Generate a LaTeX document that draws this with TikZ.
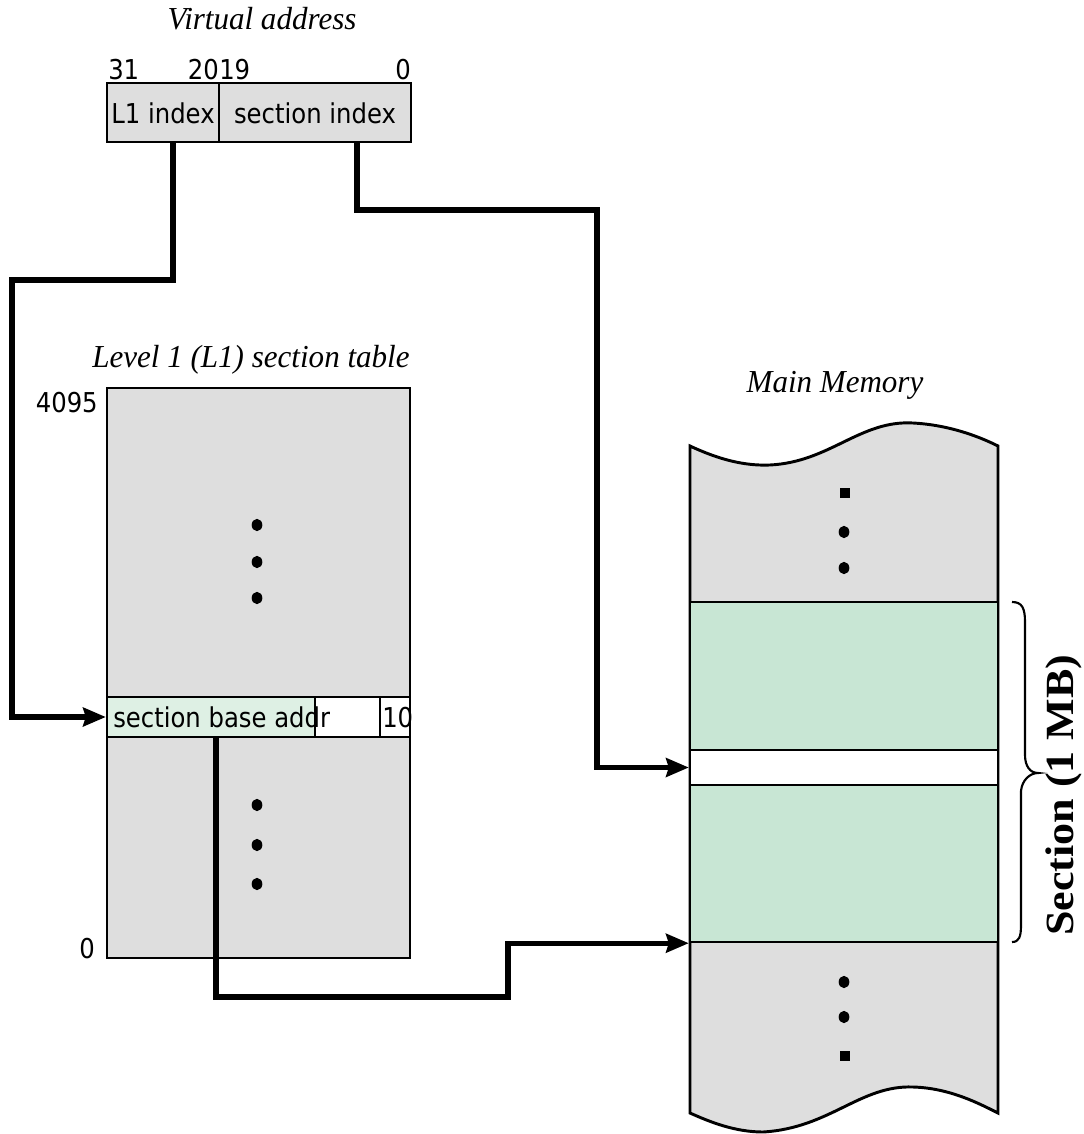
\documentclass[tikz,border=0pt]{standalone}
\usepackage{fontspec}
\setmainfont{Liberation Serif}
\newfontfamily\labfont[FakeStretch=0.89]{DejaVu Sans}
\newfontfamily\ttlfont[FakeStretch=0.97]{Liberation Serif}
\newfontfamily\secfont[FakeStretch=1.1]{Liberation Serif}
\usetikzlibrary{arrows.meta,fit}
\definecolor{boxgray}{RGB}{222,222,222}
\definecolor{memgreen}{RGB}{200,230,212}
\definecolor{entgreen}{RGB}{222,240,228}
\begin{document}
\begin{tikzpicture}[x=0.75pt,y=-0.75pt,
  box/.style={draw=black,line width=1.8pt,fill=boxgray,inner sep=0pt},
  band/.style={draw=black,line width=1.8pt,inner sep=0pt},
  conn/.style={line width=3.8pt,-{Stealth[length=17pt,width=14pt,inset=2pt]}},
  lab/.style={font=\labfont\fontsize{20.5}{24}\selectfont,inner sep=0pt},
  ttl/.style={font=\ttlfont\itshape\fontsize{24}{28}\selectfont,inner sep=0pt,anchor=base},
  dot/.style={fill=black}]
\useasboundingbox (0,0) rectangle (1084,1134);

% ---------- Virtual address ----------
\node[ttl] (vattl) at (262,30) {Virtual address};
\node[box,fit={(107,83) (219,142)}] (l1f) {};
\node[box,fit={(219,83) (411,142)}] (sif) {};
\node[lab,anchor=base] (l1t) at (163,124) {L1 index};
\node[lab,anchor=base] (sit) at (315,124) {section index};
\node[lab,anchor=base west] (b31) at (108,80) {31};
\node[lab,anchor=base east] (b20) at (219,80) {20};
\node[lab,anchor=base west] (b19) at (219,80) {19};
\node[lab,anchor=base east] (b0) at (411,80) {0};

% ---------- L1 section table ----------
\node[ttl] (tblttl) at (251,367) {Level 1 (L1) section table};
\node[box,fit={(107,388) (410,958)}] (tbl) {};
\node[band,fill=entgreen,fit={(107,697) (315,737)}] (ent) {};
\node[band,fill=white,fit={(315,697) (380,737)}] (ent2) {};
\node[band,fill=white,fit={(380,697) (410,737)}] (ent3) {};
\node[lab,anchor=base west] (entt) at (113,727) {section base addr};
\node[lab,anchor=base west] (ent3t) at (382,727) {10};
\node[lab,anchor=base east] (n4095) at (98,412) {4095};
\node[lab,anchor=base east] (n0) at (95,958) {0};
\foreach \y in {525,562,598,805,845,884}
  \fill[dot] (257,\y) ellipse [x radius=4pt, y radius=4.6pt];

% ---------- Main memory ----------
\node[ttl] (memttl) at (835,392) {Main Memory};
\draw[line width=2.2pt,fill=boxgray]
  (690,446) .. controls (720,460) and (745,466) .. (770,465)
  .. controls (830,462) and (860,420) .. (913,423)
  .. controls (950,425) and (980,437) .. (998,446)
  -- (998,1113)
  .. controls (980,1104) and (950,1088) .. (913,1087)
  .. controls (860,1085) and (830,1128) .. (763,1132)
  .. controls (735,1132) and (710,1122) .. (690,1113) -- cycle;
\node[band,fill=memgreen,fit={(690,602) (998,750)}] (g1) {};
\node[band,fill=white,fit={(690,750) (998,785)}] (wb) {};
\node[band,fill=memgreen,fit={(690,785) (998,942)}] (g2) {};
\foreach \y in {532,568,982,1017}
  \fill[dot] (844,\y) ellipse [x radius=4pt, y radius=4.6pt];
\foreach \y in {493,1056}
  \fill[dot] (845,\y) +(-3.9pt,-3.9pt) rectangle +(3.9pt,3.9pt);

% brace and label
\draw[line width=1.6pt]
  (1012,602) .. controls (1022,602) and (1025,608) .. (1025,622) -- (1025,755)
  .. controls (1025,766) and (1030,773) .. (1038,773)
  .. controls (1030,773) and (1022,780) .. (1021,791) -- (1021,925)
  .. controls (1021,937) and (1019,942) .. (1012,942);
\node[rotate=90,anchor=base,inner sep=0pt,font=\secfont\bfseries\fontsize{30}{34}\selectfont] (seclab) at (1073,795) {Section (1 MB)};

% ---------- connectors ----------
\coordinate (a1) at (173,280);
\coordinate (a2) at (12,280);
\draw[conn] (l1f.south -| a1) -- (a1) -- (a2) |- (ent.west);

\coordinate (c1) at (357,210);
\coordinate (c2) at (597,210);
\draw[conn] (sif.south -| c1) -- (c1) -- (c2) |- (wb.west);

\coordinate (d1) at (216,997);
\coordinate (d2) at (508,997);
\draw[conn] (ent.south -| d1) -- (d1) -- (d2) |- (g2.south west);
\end{tikzpicture}
\end{document}
